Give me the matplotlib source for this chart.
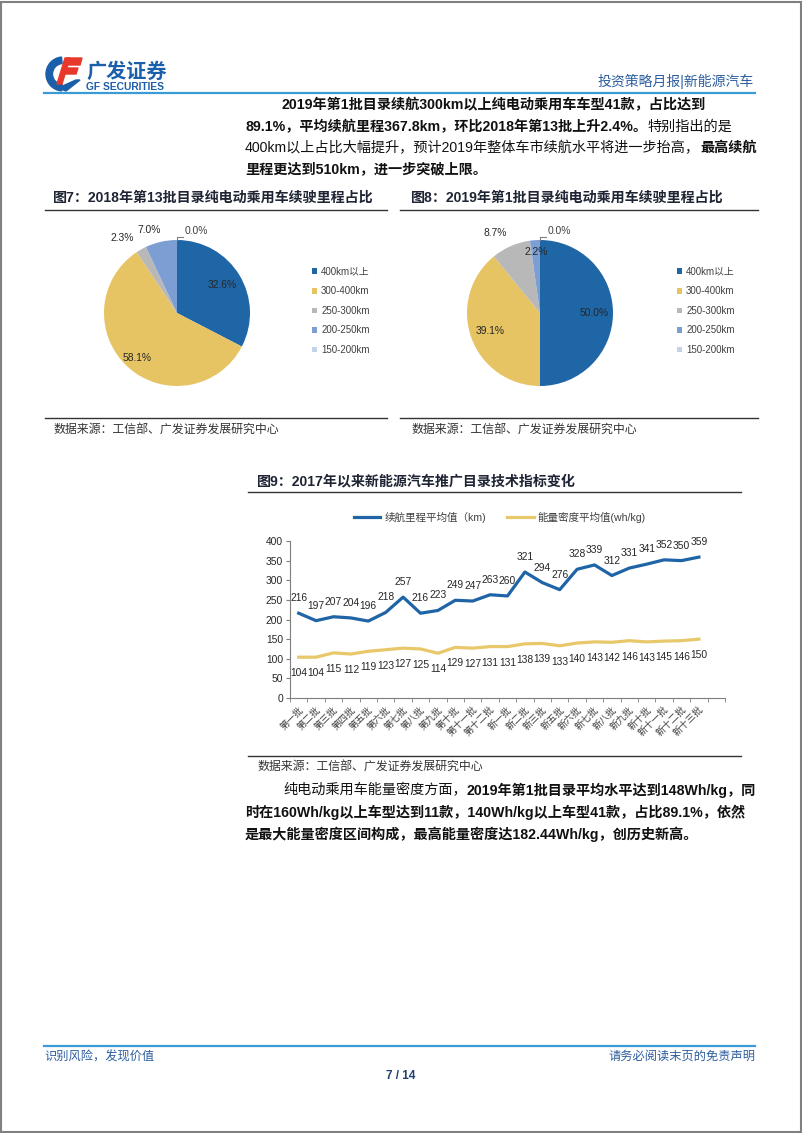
import matplotlib
matplotlib.use("Agg")
from matplotlib import pyplot as plt
from matplotlib import patches
import numpy as np

plt.rcParams['font.family'] = ['Liberation Sans', 'Noto Sans CJK SC', 'DejaVu Sans']

W, H = 802, 1133

# pie data
range_labels = ['400km以上', '300-400km', '250-300km', '200-250km', '150-200km']
share_2018_13 = [32.6, 58.1, 2.3, 7.0, 0.0]
share_2019_1 = [50.0, 39.1, 8.7, 2.2, 0.0]

# line chart data
batches = ['第一批', '第二批', '第三批', '第四批', '第五批', '第六批', '第七批',
           '第八批', '第九批', '第十批', '第十一批', '第十二批', '新一批', '新二批',
           '新三批', '新五批', '新六批', '新七批', '新八批', '新九批', '新十批',
           '新十一批', '新十二批', '新十三批']
avg_range = [216, 197, 207, 204, 196, 218, 257, 216, 223, 249, 247, 263, 260,
             321, 294, 276, 328, 339, 312, 331, 341, 352, 350, 359]
avg_density = [104, 104, 115, 112, 119, 123, 127, 125, 114, 129, 127, 131, 131,
               138, 139, 133, 140, 143, 142, 146, 143, 145, 146, 150]

pie_colors = ['#1F66A6', '#E6C363', '#B8B8B8', '#7C9ED2', '#C3D3EA']
blue = '#1F64A6'
gold = '#E8C86A'
line_blue = '#3B9BD5'
head_blue = '#2D5E9E'


def px_box(x0, y0, x1, y1):
    return [x0 / W, 1 - y1 / H, (x1 - x0) / W, (y1 - y0) / H]


fig = plt.figure(figsize=(W / 100, H / 100), dpi=100)
bg = fig.add_axes([0, 0, 1, 1])
bg.set_xlim(0, W)
bg.set_ylim(H, 0)
bg.axis('off')
renderer = fig.canvas.get_renderer()

# page frame
bg.add_patch(patches.Rectangle((1, 1.5), W - 2.5, H - 3, fill=False, ec='#808080', lw=1.5))

# header logo
bg.add_patch(patches.Wedge((63, 74), 17, 95, 265, width=6.5, color='#1B5FAA'))
bg.add_patch(patches.Polygon([(67, 58), (82, 58), (80, 65), (65, 65)], color='#E8382B'))
bg.add_patch(patches.Polygon([(65, 68), (78, 68), (76, 74), (63, 74)], color='#E8382B'))
bg.add_patch(patches.Polygon([(65, 58), (70, 58), (62, 84), (57, 84)], color='#E8382B'))
bg.add_patch(patches.Polygon([(58, 88), (76, 80), (80, 80), (66, 91)], color='#1B5FAA'))
bg.text(86, 71, '广发证券', fontsize=14.5, fontweight='bold', color='#1B5FAA',
        va='center', ha='left', family=['Noto Sans CJK SC'])
bg.text(86, 87, 'GF SECURITIES', fontsize=7.4, fontweight='bold', color='#1B5FAA',
        va='center', ha='left')
bg.text(754, 81, '投资策略月报|新能源汽车', fontsize=10, color=head_blue, va='center', ha='right')
bg.plot([44, 755], [93, 93], color=line_blue, lw=1.6)


def rich_line(x, y, parts, size=10.2):
    for txt, bold in parts:
        t = bg.text(x, y, txt, fontsize=size, fontweight='bold' if bold else 'normal',
                    va='center', ha='left', color='#111111')
        x += t.get_window_extent(renderer).width


rich_line(281, 105, [('2019年第1批目录续航300km以上纯电动乘用车车型41款，占比达到', True)])
rich_line(245, 127, [('89.1%，平均续航里程367.8km，环比2018年第13批上升2.4%。', True),
                     ('特别指出的是', False)])
rich_line(245, 148, [('400km以上占比大幅提升，预计2019年整体车市续航水平将进一步抬高，', False),
                     ('最高续航', True)])
rich_line(245, 169, [('里程更达到510km，进一步突破上限。', True)])

rich_line(283, 790, [('纯电动乘用车能量密度方面，', False),
                     ('2019年第1批目录平均水平达到148Wh/kg，同', True)])
rich_line(245, 812, [('时在160Wh/kg以上车型达到11款，140Wh/kg以上车型41款，占比89.1%，依然', True)])
rich_line(245, 834, [('是最大能量密度区间构成，最高能量密度达182.44Wh/kg，创历史新高。', True)])

title_color = '#1E2433'
src = '数据来源：工信部、广发证券发展研究中心'

# figure 7 / 8 frames
for x0, x1, tx, title in [(45, 387, 53, '图7：2018年第13批目录纯电动乘用车续驶里程占比'),
                          (400, 758, 411, '图8：2019年第1批目录纯电动乘用车续驶里程占比')]:
    bg.text(tx, 198, title, fontsize=10.1, fontweight='bold', color=title_color, va='center')
    bg.plot([x0, x1], [210, 210], color='#333333', lw=1)
    bg.plot([x0, x1], [418, 418], color='#333333', lw=1)
    bg.text(tx, 430, src, fontsize=8.6, color='#333333', va='center')


def draw_pie(cx, values, dists, legend_x):
    r = 73
    ax = fig.add_axes(px_box(cx - r, 313 - r, cx + r, 313 + r))
    wedges, _ = ax.pie(values, colors=pie_colors, startangle=90, counterclock=False,
                       radius=1, wedgeprops=dict(linewidth=0))
    ax.set_xlim(-1, 1)
    ax.set_ylim(-1, 1)
    for w, v, d in zip(wedges, values, dists):
        if v == 0:
            ax.plot([0, 0, 0.08], [1.0, 1.045, 1.045], color='#7F7F7F', lw=0.8, clip_on=False)
            ax.text(0.1, 1.12, f'{v:.1f}%', fontsize=7.4, color='#404040',
                    ha='left', va='center', clip_on=False)
            continue
        ang = np.deg2rad((w.theta1 + w.theta2) / 2)
        ax.text(d[0] * np.cos(ang + d[1]), d[0] * np.sin(ang + d[1]), f'{v:.1f}%',
                fontsize=7.4, color='#262626', ha='center', va='center', clip_on=False)
    fig.legend(wedges, range_labels, loc='upper left',
               bbox_to_anchor=(legend_x / W, 1 - 262 / H), frameon=False,
               handlelength=0.55, handleheight=0.55, handletextpad=0.4,
               labelspacing=0.98, borderpad=0, labelcolor='#404040',
               prop={'family': ['Liberation Sans', 'Noto Sans CJK SC'], 'size': 7})


draw_pie(177, share_2018_13, [(0.73, 0.0), (0.82, 0.0), (1.27, 0.12), (1.2, 0.1), None], 307)
draw_pie(540, share_2019_1, [(0.74, 0.0), (0.73, 0.0), (1.25, 0.1), (0.84, 0.0), None], 672)

# figure 9
bg.text(257, 481, '图9：2017年以来新能源汽车推广目录技术指标变化', fontsize=10.1,
        fontweight='bold', color=title_color, va='center')
bg.plot([248, 741], [492, 492], color='#333333', lw=1)
bg.plot([248, 741], [756, 756], color='#333333', lw=1)
bg.text(257, 767, src, fontsize=8.6, color='#333333', va='center')

ax = fig.add_axes(px_box(290, 541, 725, 698))
x = np.arange(len(batches))
ax.plot(x, avg_range, color=blue, lw=2.3, label='续航里程平均值（km)')
ax.plot(x, avg_density, color=gold, lw=2.3, label='能量密度平均值(wh/kg)')
ax.set_xlim(-0.5, len(batches) + 0.5)
ax.set_ylim(0, 400)
ax.set_yticks(range(0, 401, 50))
ax.set_xticks(x)
ax.set_xticklabels(batches, rotation=45, ha='right', rotation_mode='anchor')
ax.set_xticks(np.arange(-0.5, len(batches) + 1, 1), minor=True)
ax.tick_params(axis='x', which='major', length=0, pad=5, labelsize=6.8, labelcolor='#404040')
ax.tick_params(axis='x', which='minor', length=3, color='#7F7F7F')
ax.tick_params(axis='y', length=3, color='#7F7F7F', labelsize=7.4, labelcolor='#262626', pad=2)
for s in ['top', 'right']:
    ax.spines[s].set_visible(False)
for s in ['left', 'bottom']:
    ax.spines[s].set_color('#7F7F7F')
    ax.spines[s].set_linewidth(0.8)
ax.patch.set_alpha(0)
for xi, v in zip(x, avg_range):
    ax.annotate(str(v), (xi, v), xytext=(0, 10.8), textcoords='offset points',
                ha='center', va='center', fontsize=7.4, color='#262626')
for xi, v in zip(x, avg_density):
    ax.annotate(str(v), (xi, v), xytext=(0, -11.5), textcoords='offset points',
                ha='center', va='center', fontsize=7.4, color='#262626')
ax.legend(loc='center', bbox_to_anchor=(500 / W, 1 - 517 / H),
          bbox_transform=fig.transFigure, ncol=2, frameon=False, fontsize=7.6,
          handlelength=2.5, handletextpad=0.4, columnspacing=2.0, labelcolor='#404040')

# footer
bg.plot([44, 755], [1046, 1046], color=line_blue, lw=1.6)
bg.text(44, 1057, '识别风险，发现价值', fontsize=8.8, color=head_blue, va='center')
bg.text(755, 1057, '请务必阅读末页的免责声明', fontsize=8.8, color=head_blue, va='center', ha='right')
bg.text(401, 1076, '7 / 14', fontsize=8.5, fontweight='bold', color='#1F3F6F',
        va='center', ha='center')

fig.savefig('out.png', dpi=100)
